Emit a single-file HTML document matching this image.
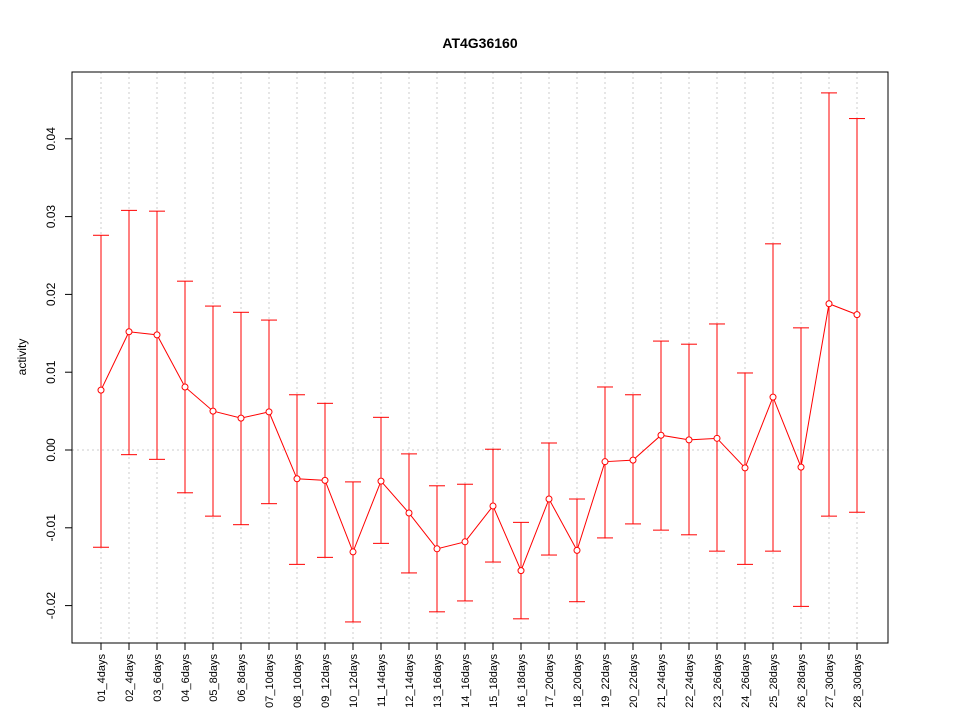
<!DOCTYPE html>
<html><head><meta charset="utf-8"><style>
body{margin:0;background:#fff}
svg{display:block;font-family:"Liberation Sans",Arial,sans-serif}
</style></head><body>
<svg id="chart" width="960" height="720" viewBox="0 0 960 720">
<text x="480" y="48" text-anchor="middle" font-size="14" font-weight="bold">AT4G36160</text>
<text transform="translate(26,357) rotate(-90)" text-anchor="middle" font-size="12">activity</text>
<g id="grid"></g><g id="axes"></g><g id="marks"></g>
<rect x="72" y="72" width="816" height="571" fill="none" stroke="#000"/>
</svg>
<script>
const categories=["01_4days","02_4days","03_6days","04_6days","05_8days","06_8days","07_10days","08_10days","09_12days","10_12days","11_14days","12_14days","13_16days","14_16days","15_18days","16_18days","17_20days","18_20days","19_22days","20_22days","21_24days","22_24days","23_26days","24_26days","25_28days","26_28days","27_30days","28_30days"];
const means=[0.0077,0.0152,0.0148,0.0081,0.0050,0.0041,0.0049,-0.0037,-0.0039,-0.0131,-0.0040,-0.0081,-0.0127,-0.0118,-0.0072,-0.0155,-0.0063,-0.0129,-0.0015,-0.0013,0.0019,0.0013,0.0015,-0.0023,0.0068,-0.0022,0.0188,0.0174];
const upper=[0.0276,0.0308,0.0307,0.0217,0.0185,0.0177,0.0167,0.0071,0.0060,-0.0041,0.0042,-0.0005,-0.0046,-0.0044,0.0001,-0.0093,0.0009,-0.0063,0.0081,0.0071,0.0140,0.0136,0.0162,0.0099,0.0265,0.0157,0.0459,0.0426];
const lower=[-0.0125,-0.0006,-0.0012,-0.0055,-0.0085,-0.0096,-0.0069,-0.0147,-0.0138,-0.0221,-0.0120,-0.0158,-0.0208,-0.0194,-0.0144,-0.0217,-0.0135,-0.0195,-0.0113,-0.0095,-0.0103,-0.0109,-0.0130,-0.0147,-0.0130,-0.0201,-0.0085,-0.0080];
const yTicks=[-0.02,-0.01,0.00,0.01,0.02,0.03,0.04];
const yTickLabels=["-0.02","-0.01","0.00","0.01","0.02","0.03","0.04"];
const NS="http://www.w3.org/2000/svg";
const x=i=>101+i*28;
const y=v=>450-v*7780;
function mk(tag,attrs,parent,text){const e=document.createElementNS(NS,tag);for(const k in attrs)e.setAttribute(k,attrs[k]);if(text!==undefined)e.textContent=text;document.getElementById(parent).appendChild(e);return e;}
// grid
categories.forEach((c,i)=>{const l=mk('line',{x1:x(i),x2:x(i),y1:72,y2:643,stroke:'#ccc','stroke-dasharray':'2,3'},'grid');

});
const hz=mk('line',{x1:72,x2:888,y1:y(0),y2:y(0),stroke:'#ccc','stroke-dasharray':'2,3'},'grid');


// y axis
yTicks.forEach((v,i)=>{const t=mk('line',{x1:65,x2:72,y1:y(v),y2:y(v),stroke:'#000'},'axes');


const lb=mk('text',{transform:`translate(55,${y(v)}) rotate(-90)`,'text-anchor':'middle','font-size':'12'},'axes',yTickLabels[i]);

});
// x axis
categories.forEach((c,i)=>{const t=mk('line',{x1:x(i),x2:x(i),y1:643,y2:650,stroke:'#000'},'axes');


const lb=mk('text',{transform:`translate(${x(i)+4},654) rotate(-90)`,'text-anchor':'end','font-size':'11'},'axes',c);

});
// error bars
categories.forEach((c,i)=>{const g=mk('g',{stroke:'#ff0000',fill:'none'},'marks');


[[x(i),y(upper[i]),x(i),y(lower[i])],[x(i)-8,y(upper[i]),x(i)+8,y(upper[i])],[x(i)-8,y(lower[i]),x(i)+8,y(lower[i])]].forEach(a=>{const l=document.createElementNS(NS,'line');l.setAttribute('x1',a[0]);l.setAttribute('y1',a[1]);l.setAttribute('x2',a[2]);l.setAttribute('y2',a[3]);g.appendChild(l);});});
const pl=mk('polyline',{points:means.map((v,i)=>x(i)+','+y(v)).join(' '),fill:'none',stroke:'#ff0000'},'marks');


means.forEach((v,i)=>{const p=mk('circle',{cx:x(i),cy:y(v),r:3,fill:'#fff',stroke:'#ff0000'},'marks');

});
</script>
</body></html>
